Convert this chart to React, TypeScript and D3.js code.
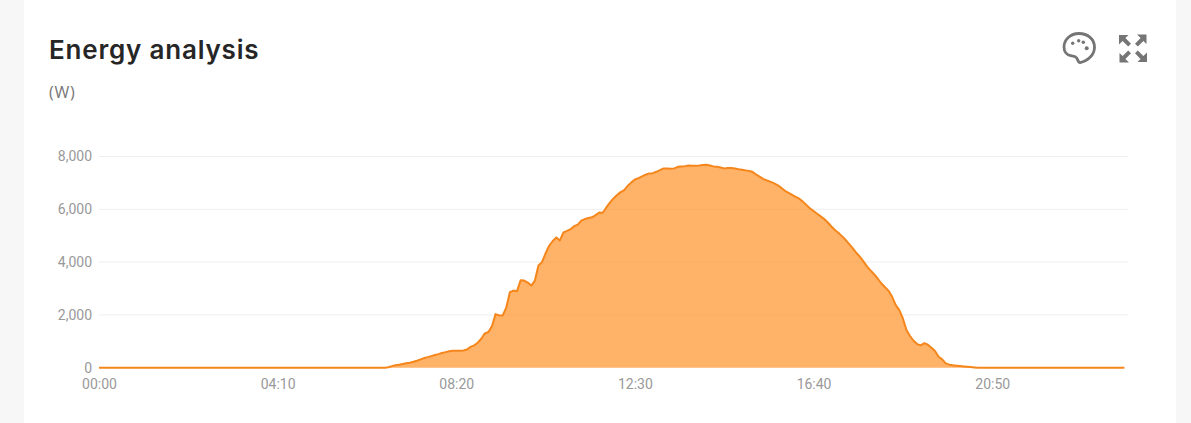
import React, { useRef, useEffect } from 'react';
import * as d3 from 'd3';

const WIDTH = 1191;
const HEIGHT = 423;

// one reading every 5 minutes, 00:00 to 23:55
const power: number[] = [
  0, 0, 0, 0, 0, 0, 0, 0, 0, 0, 0, 0, 0, 0, 0, 0, 0, 0, 0, 0,
  0, 0, 0, 0, 0, 0, 0, 0, 0, 0, 0, 0, 0, 0, 0, 0, 0, 0, 0, 0,
  0, 0, 0, 0, 0, 0, 0, 0, 0, 0, 0, 0, 0, 0, 0, 0, 0, 0, 0, 0,
  0, 0, 0, 0, 0, 0, 0, 0, 0, 0, 0, 0, 0, 0, 0, 0, 0, 0, 0, 0,
  0, 20, 60, 90, 115, 140, 165, 190, 225, 265, 315, 365, 400, 440, 480, 515, 555, 590, 620, 640,
  640, 640, 650, 690, 790, 845, 945, 1095, 1300, 1350, 1575, 2030, 1980, 1980, 2280, 2860, 2920, 2900, 3310, 3300,
  3225, 3110, 3300, 3870, 4000, 4334, 4620, 4800, 4935, 4820, 5120, 5180, 5250, 5360, 5420, 5570, 5630, 5670, 5695, 5780,
  5880, 5870, 6070, 6250, 6410, 6540, 6650, 6730, 6890, 7020, 7130, 7180, 7245, 7310, 7360, 7370, 7420, 7485, 7550, 7550,
  7535, 7550, 7610, 7625, 7635, 7660, 7650, 7650, 7660, 7675, 7685, 7660, 7625, 7610, 7585, 7550, 7565, 7560, 7550, 7520,
  7500, 7475, 7450, 7410, 7310, 7230, 7145, 7090, 7040, 6980, 6910, 6810, 6700, 6625, 6550, 6475, 6400, 6290, 6160, 6035,
  5935, 5830, 5730, 5630, 5500, 5350, 5215, 5100, 4975, 4835, 4680, 4520, 4345, 4200, 4020, 3830, 3680, 3530, 3370, 3190,
  3050, 2910, 2685, 2370, 2180, 1865, 1425, 1200, 1020, 895, 845, 930, 870, 755, 630, 415, 315, 165, 115, 90,
  75, 63, 50, 38, 25, 12, 0, 0, 0, 0, 0, 0, 0, 0, 0, 0, 0, 0, 0, 0,
  0, 0, 0, 0, 0, 0, 0, 0, 0, 0, 0, 0, 0, 0, 0, 0, 0, 0, 0, 0,
  0, 0, 0, 0, 0, 0, 0, 0,
];

const yTicks = [0, 2000, 4000, 6000, 8000];
const xTicks = ['00:00', '04:10', '08:20', '12:30', '16:40', '20:50'];

const fmtTime = (i: number) =>
  `${String(Math.floor((i * 5) / 60)).padStart(2, '0')}:${String((i * 5) % 60).padStart(2, '0')}`;

const App: React.FC = () => {
  const svgRef = useRef<SVGSVGElement>(null);

  useEffect(() => {
    if (!svgRef.current) return;
    const svg = d3.select(svgRef.current);
    svg.selectAll('*').remove();

    // page background and card
    svg.append('rect').attr('width', WIDTH).attr('height', HEIGHT).attr('fill', '#f7f7f7');
    svg.append('rect').attr('x', 24).attr('width', 1152).attr('height', HEIGHT).attr('fill', '#fff');

    svg.append('text')
      .attr('x', 49).attr('y', 59)
      .attr('font-family', 'Inter')
      .attr('font-size', 26)
      .attr('font-weight', 600)
      .attr('letter-spacing', 0.8)
      .attr('fill', '#262626')
      .text('Energy analysis');

    svg.append('text')
      .attr('x', 49).attr('y', 98)
      .attr('font-family', '"Open Sans"')
      .attr('font-size', 16)
      .attr('letter-spacing', 0.8)
      .attr('fill', '#757575')
      .text('(W)');

    const xScale = d3.scalePoint<string>()
      .domain(power.map((_, i) => fmtTime(i)))
      .range([99, 1124.4]);

    const yScale = d3.scaleLinear()
      .domain([0, 8000])
      .range([367.7, 156.5]);

    // gridlines
    svg.append('g')
      .selectAll('line')
      .data(yTicks.filter(d => d > 0))
      .join('line')
      .attr('x1', 99).attr('x2', 1128)
      .attr('y1', d => yScale(d)).attr('y2', d => yScale(d))
      .attr('stroke', '#eeeeee');

    const area = d3.area<number>()
      .x((_, i) => xScale(fmtTime(i)) || 0)
      .y0(yScale(0))
      .y1(d => yScale(d));

    const line = d3.line<number>()
      .x((_, i) => xScale(fmtTime(i)) || 0)
      .y(d => yScale(d));

    svg.append('path')
      .datum(power)
      .attr('fill', '#ff8b17')
      .attr('fill-opacity', 0.65)
      .attr('d', area);

    svg.append('path')
      .datum(power)
      .attr('fill', 'none')
      .attr('stroke', '#f5861c')
      .attr('stroke-width', 2)
      .attr('stroke-linejoin', 'round')
      .attr('d', line);

    // axes
    const yAxis = svg.append('g')
      .attr('transform', 'translate(99,0)')
      .call(d3.axisLeft(yScale).tickValues(yTicks).tickSize(0).tickPadding(7).tickFormat(d3.format(',')));
    yAxis.select('.domain').remove();

    const xAxis = svg.append('g')
      .attr('transform', `translate(0,${yScale(0) + 8})`)
      .call(d3.axisBottom(xScale).tickValues(xTicks).tickSize(0).tickPadding(3));
    xAxis.select('.domain').remove();

    svg.selectAll('.tick text')
      .attr('font-family', 'Roboto')
      .attr('font-size', 14)
      .attr('fill', '#999999');

    // palette icon
    const icons = svg.append('g').attr('fill', '#757575');
    icons.append('path')
      .attr('d', 'M1079 33.5c-8.6 0-15 6-15 13.5 0 4.8 3 8 6.6 8.6 2.4.4 4.4.4 5.8 2 1.4 1.5 1.6 5 3.6 5 8.2-1.6 14.5-8 14.5-15.4 0-8-6.7-13.7-15.5-13.7z')
      .attr('fill', 'none')
      .attr('stroke', '#757575')
      .attr('stroke-width', 2.8);
    icons.selectAll('circle')
      .data([[1072.7, 43.3, 1.7], [1078.7, 40.7, 1.7], [1083.3, 42.3, 1.7], [1086.7, 48.3, 2]])
      .join('circle')
      .attr('cx', d => d[0]).attr('cy', d => d[1]).attr('r', d => d[2]);

    // fullscreen icon, one arrow turned to each corner
    [0, 90, 180, 270].forEach(angle => {
      const g = icons.append('g').attr('transform', `translate(1133,48.5) rotate(${angle})`);
      g.append('path').attr('d', 'M-14 -13.5H-4.5L-7.6 -10.4L-2 -4.8L-4.8 -2L-10.4 -7.6L-14 -4z');
    });
  }, []);

  return (
    <svg
      ref={svgRef}
      width={WIDTH}
      height={HEIGHT}
      style={{ position: 'absolute', left: 0, top: 0, display: 'block' }}
    ></svg>
  );
};

export default App;
